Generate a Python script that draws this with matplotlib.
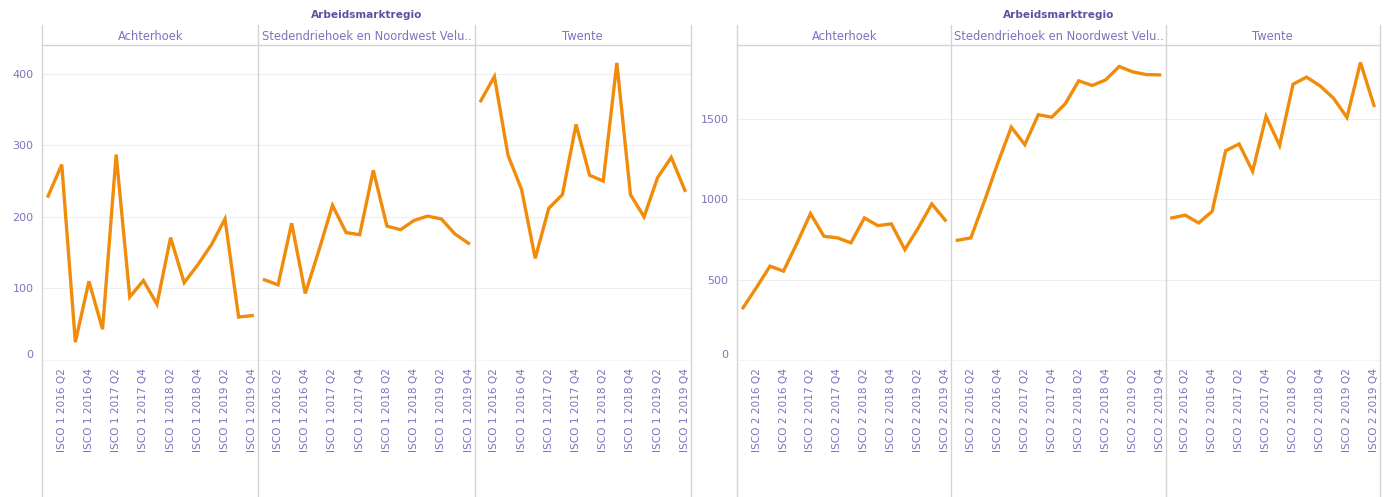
import matplotlib.pyplot as plt
from matplotlib.lines import Line2D

# quarters 2016 Q1 .. 2019 Q4
years = [2016, 2017, 2018, 2019]
quarters = [f"{y} Q{q}" for y in years for q in range(1, 5)]
regions = ["Achterhoek", "Stedendriehoek en Noordwest Velu..", "Twente"]

# ISCO 1
isco1_achterhoek = [229, 273, 25, 110, 43, 287, 88, 111, 78, 171, 108, 133, 161, 197, 60, 62]
isco1_stedendriehoek = [112, 105, 191, 93, 153, 216, 178, 175, 265, 187, 182, 195, 201, 197, 176, 163]
isco1_twente = [362, 396, 286, 238, 142, 212, 231, 329, 258, 250, 415, 231, 200, 255, 283, 237]

# ISCO 2
isco2_achterhoek = [325, 452, 584, 553, 727, 911, 770, 760, 729, 884, 836, 847, 687, 822, 971, 870]
isco2_stedendriehoek = [745, 760, 988, 1226, 1449, 1340, 1526, 1511, 1594, 1737, 1708, 1743, 1826, 1793, 1776, 1774]
isco2_twente = [884, 901, 853, 925, 1302, 1344, 1174, 1516, 1335, 1716, 1760, 1706, 1629, 1509, 1851, 1584]

groups = [
    dict(isco=1, series=[isco1_achterhoek, isco1_stedendriehoek, isco1_twente],
         x0=42, x1=691, ymax=440, yticks=[0, 100, 200, 300, 400]),
    dict(isco=2, series=[isco2_achterhoek, isco2_stedendriehoek, isco2_twente],
         x0=737, x1=1380, ymax=1960, yticks=[0, 500, 1000, 1500]),
]

W, H = 1388, 497
LINE = "#f08c0a"
TXT = "#7b74bd"
TITLE = "#5a54a0"
DIV = "#d4d4d4"
GRID = "#eeeeee"
top, bottom = 45, 360

fig = plt.figure(figsize=(W / 100, H / 100), dpi=100)


def vline(x, y0, y1, color=DIV, lw=1.0):
    fig.add_artist(Line2D([x / W, x / W], [1 - y0 / H, 1 - y1 / H],
                          transform=fig.transFigure, color=color, lw=lw))


def hline(x0, x1, y, color=DIV, lw=1.0, ls="-"):
    fig.add_artist(Line2D([x0 / W, x1 / W], [1 - y / H, 1 - y / H],
                          transform=fig.transFigure, color=color, lw=lw, ls=ls))


for g in groups:
    pw = (g["x1"] - g["x0"]) / 3
    xs = list(range(len(quarters)))
    for i, (region, vals) in enumerate(zip(regions, g["series"])):
        px = g["x0"] + i * pw
        ax = fig.add_axes([px / W, 1 - bottom / H, pw / W, (bottom - top) / H])
        ax.plot(xs, vals, color=LINE, lw=2.4, solid_joinstyle="miter")
        ax.set_xlim(-0.45, len(quarters) - 0.55)
        ax.set_ylim(0, g["ymax"])
        ax.set_yticks(g["yticks"])
        for t in g["yticks"][1:]:
            ax.axhline(t, color=GRID, lw=0.8, zorder=0)
        for s in ax.spines.values():
            s.set_visible(False)
        ticks = xs[1::2]
        ax.set_xticks(ticks)
        ax.set_xticklabels([f"ISCO {g['isco']} {quarters[k]}" for k in ticks],
                           rotation=90, fontsize=7.6, color=TXT)
        ax.tick_params(axis="x", length=0, pad=6)
        if i == 0:
            ax.tick_params(axis="y", length=0, pad=6, labelsize=8, labelcolor=TXT)
            lbls = ax.get_yticklabels()
            lbls[0].set_verticalalignment("bottom")
        else:
            ax.tick_params(axis="y", length=0, labelleft=False)
        fig.text((px + pw / 2) / W, 1 - 37 / H, region, ha="center", va="center",
                 fontsize=8.3, color=TXT)
        vline(px, 25, H)
    vline(g["x1"], 25, H)
    hline(g["x0"], g["x1"], top)
    hline(g["x0"], g["x1"], bottom, color="#e2e2e2", lw=0.7, ls=":")
    fig.text((g["x0"] + g["x1"]) / 2 / W, 1 - 15 / H, "Arbeidsmarktregio",
             ha="center", va="center", fontsize=7.6, fontweight="bold", color=TITLE)

fig.savefig("out.png", dpi=100, facecolor="white")
